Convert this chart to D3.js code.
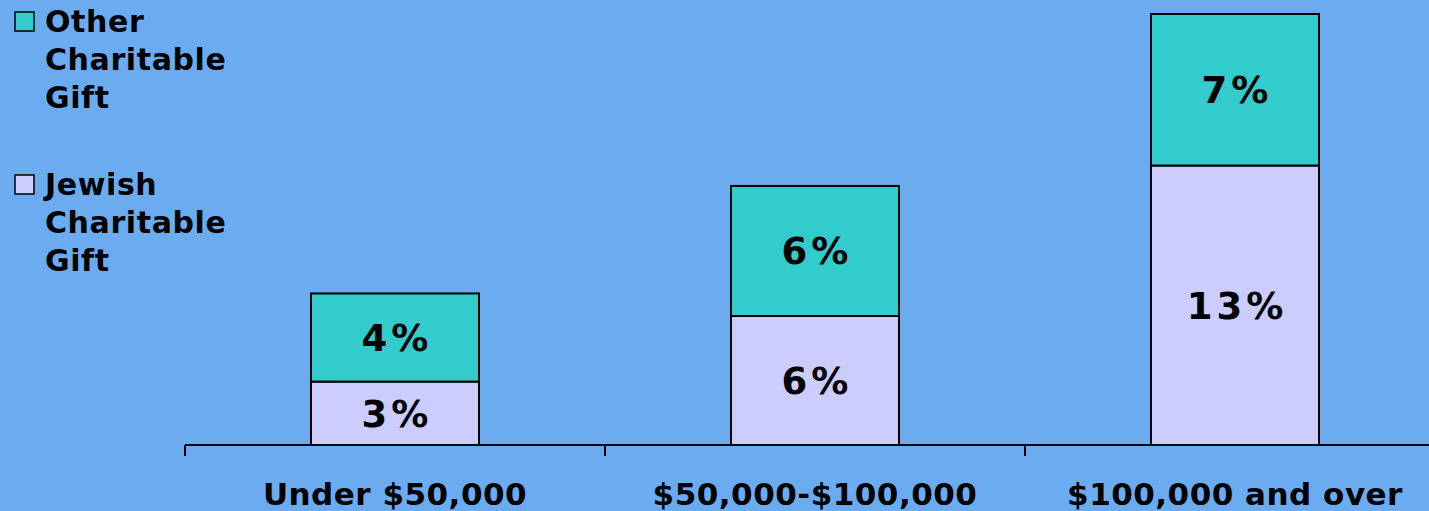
<!DOCTYPE html>
<meta charset="utf-8">
<head>
    <title>Charitable gifts by income</title>
</head>

<style>

body {
  margin: 0;
  background: #6babef;
}

svg text {
  font-family: "DejaVu Sans", Verdana, sans-serif;
  font-weight: bold;
  fill: #000;
}

.bar rect {
  stroke: #000;
  stroke-width: 2;
}

.axis line {
  stroke: #000;
  stroke-width: 2;
  shape-rendering: crispEdges;
}

</style>
<body>
<script src="https://cdn.jsdelivr.net/npm/d3@7/dist/d3.min.js"></script>
<script>

var categories = ["Under $50,000", "$50,000-$100,000", "$100,000 and over"];
var jewish = [2.95, 6.0, 13.0];
var other = [4.1, 6.05, 7.05];
var seriesNames = ["Other Charitable Gift", "Jewish Charitable Gift"];

var colors = {jewish: "#ccccff", other: "#33cccc"};

var width = 1429,
    height = 511;

var svg = d3.select("body").append("svg")
    .attr("width", width)
    .attr("height", height);

var x = d3.scaleBand()
    .domain(categories)
    .range([185, 1445])
    .paddingInner(0.6)
    .paddingOuter(0.3);

var y = d3.scaleLinear()
    .domain([0, 20.7])
    .range([445, 0]);

var fmt = function(v) { return d3.format(".0f")(v) + "%"; };

var data = categories.map(function(c, i) {
  return {cat: c, jewish: jewish[i], other: other[i]};
});

var bars = svg.selectAll(".bar")
    .data(data)
  .enter().append("g")
    .attr("class", "bar");

// jewish segment (bottom)
bars.append("rect")
    .attr("x", function(d) { return x(d.cat); })
    .attr("width", x.bandwidth())
    .attr("y", function(d) { return y(d.jewish); })
    .attr("height", function(d) { return y(0) - y(d.jewish); })
    .style("fill", colors.jewish);

// other segment (top)
bars.append("rect")
    .attr("x", function(d) { return x(d.cat); })
    .attr("width", x.bandwidth())
    .attr("y", function(d) { return y(d.jewish + d.other); })
    .attr("height", function(d) { return y(d.jewish) - y(d.jewish + d.other); })
    .style("fill", colors.other);

// value labels
bars.append("text")
    .attr("x", function(d) { return x(d.cat) + x.bandwidth() / 2 + 2; })
    .attr("y", function(d) { return y(d.jewish / 2); })
    .attr("dy", "0.36em")
    .style("text-anchor", "middle")
    .style("font-size", "37px")
    .style("letter-spacing", "4px")
    .text(function(d) { return fmt(d.jewish); });

bars.append("text")
    .attr("x", function(d) { return x(d.cat) + x.bandwidth() / 2 + 2; })
    .attr("y", function(d) { return y(d.jewish + d.other / 2); })
    .attr("dy", "0.36em")
    .style("text-anchor", "middle")
    .style("font-size", "37px")
    .style("letter-spacing", "4px")
    .text(function(d) { return fmt(d.other); });

// axis line and boundary ticks
var axis = svg.append("g").attr("class", "axis");

axis.append("line")
    .attr("x1", x.range()[0])
    .attr("x2", x.range()[1])
    .attr("y1", y(0))
    .attr("y2", y(0));

var bounds = categories.map(function(c) { return x(c) - x.step() * x.paddingOuter(); });
bounds.push(x.range()[1]);

axis.selectAll(".tick")
    .data(bounds)
  .enter().append("line")
    .attr("class", "tick")
    .attr("x1", function(d) { return d; })
    .attr("x2", function(d) { return d; })
    .attr("y1", y(0))
    .attr("y2", y(0) + 11);

// category labels
svg.selectAll(".cat")
    .data(categories)
  .enter().append("text")
    .attr("class", "cat")
    .attr("x", function(d) { return x(d) + x.bandwidth() / 2; })
    .attr("y", 505)
    .style("text-anchor", "middle")
    .style("font-size", "31px")
    .style("letter-spacing", "0.5px")
    .text(function(d) { return d; });

// draw legend
var legend = svg.selectAll(".legend")
    .data(seriesNames)
  .enter().append("g")
    .attr("class", "legend")
    .attr("transform", function(d, i) { return "translate(0," + i * 163 + ")"; });

legend.append("rect")
    .attr("x", 15)
    .attr("y", 12)
    .attr("width", 19)
    .attr("height", 19)
    .style("fill", function(d, i) { return i === 0 ? colors.other : colors.jewish; })
    .style("stroke", "#000")
    .style("stroke-width", 1.5);

legend.append("text")
    .attr("x", 45)
    .attr("y", 32)
    .style("font-size", "30px")
    .style("letter-spacing", "0.6px")
  .selectAll("tspan")
    .data(function(d) { return d.split(" "); })
  .enter().append("tspan")
    .attr("x", 45)
    .attr("dy", function(d, i) { return i === 0 ? 0 : 38; })
    .text(function(d) { return d; });

</script>
